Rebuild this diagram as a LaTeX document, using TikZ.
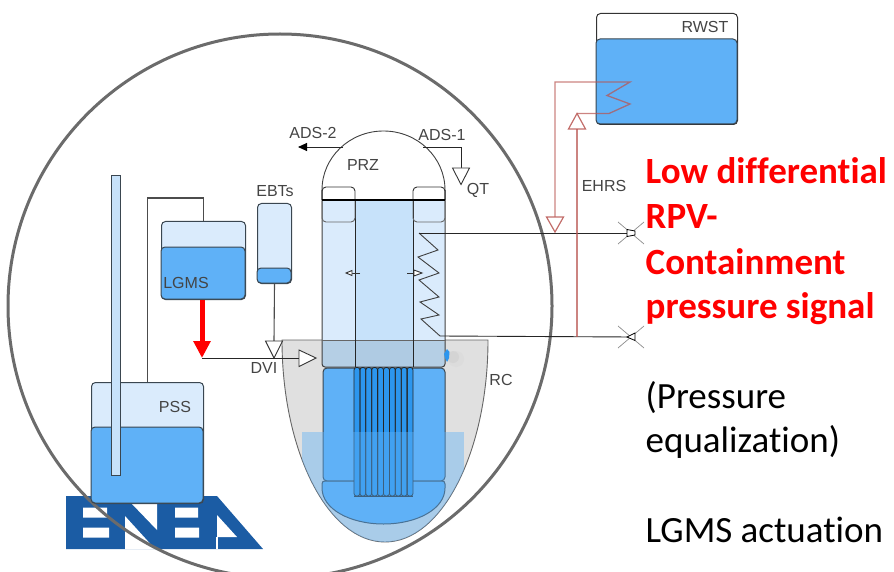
\documentclass[tikz,border=0pt]{standalone}
\usepackage{fontspec}
\setmainfont{Liberation Sans}
\newfontfamily\calib[Ligatures=NoCommon,RawFeature={-liga;-clig}]{Carlito}
\usetikzlibrary{arrows.meta}
\definecolor{lightb}{HTML}{DAEBFC}
\definecolor{riser}{HTML}{C7E2FA}
\definecolor{water}{HTML}{5FB1F7}
\definecolor{core}{HTML}{2C96EE}
\definecolor{rc}{HTML}{E0E0E0}
\definecolor{outl}{HTML}{3A4650}
\definecolor{ehrs}{HTML}{B85450}
\definecolor{enea}{HTML}{1B5CA4}
\definecolor{lab}{HTML}{444444}
\definecolor{vlow}{HTML}{B5CFE5}
\definecolor{rlow}{HTML}{AFCBE3}
\tikzset{
 x=1pt,y=-1pt,
 tank/.style={draw=outl,line width=1pt,rounded corners=4pt,inner sep=0pt,anchor=north west,fill=lightb},
 pipeline/.style={draw=black!70,line width=1.1pt},
 blackline/.style={draw=black!85,line width=.9pt},
 tri/.style={draw=black!80,fill=white,line width=.9pt},
 ehl/.style={draw=ehrs,draw opacity=.72,line width=1.3pt},
 etri/.style={draw=ehrs,draw opacity=.85,fill=white,line width=1.2pt},
 lbl/.style={text=lab,font=\fontsize{16}{16}\selectfont,inner sep=0pt},
 callout/.style={font=\calib\fontsize{37}{37}\selectfont,inner sep=0pt,anchor=base west},
 redcall/.style={text=red,font=\calib\bfseries\fontsize{37}{37}\selectfont},
 vx/.style={draw=black!45,line width=.7pt},
 vb/.style={draw=black,fill=white,line width=.8pt},
}
\newcommand{\RCpath}{(282,340) -- (488,340) .. controls (488,451.6) and (441.9,542) .. (385,542) .. controls (328.1,542) and (282,451.6) .. (282,340) -- cycle}
\begin{document}
\begin{tikzpicture}
\useasboundingbox (0,0) rectangle (894,572);
% ENEA logo
\fill[enea] (66,496) -- (217,496) -- (263,549) -- (66,549) -- cycle;
\fill[white] (83,507.5) rectangle (107,517.5) (83,527.5) rectangle (109,537.5);
\fill[white] (125,516) -- (125,549) -- (155,549) -- cycle;
\fill[white] (132,504) -- (157,504) -- (157,530) -- cycle;
\fill[white] (175,507.5) rectangle (198,517.5) (175,527.5) rectangle (199,537.5);
\fill[white] (217,515) -- (237,537) -- (217,537) -- cycle;
\fill[white] (216.3,537) rectangle (218,549);
% containment
\draw[draw=black!58,line width=3pt] (280,306) circle[radius=272pt];
% RC
\path[fill=rc,draw=black!60,line width=.9pt] \RCpath;
% upper vessel
\path[fill=white,draw=black!75,line width=.9pt] (322,200) -- (322,190) .. controls (322,157.4) and (349.5,131) .. (383.5,131)
  .. controls (417.5,131) and (445,157.4) .. (445,190) -- (445,200);
\fill[lightb] (322,200) -- (445,200) -- (445,340) -- (322,340) -- cycle;
\fill[riser] (355,200) rectangle (413,340);
\fill[vlow,rounded corners=3pt] (322,340) -- (445,340) -- (445,367) -- (322,367) -- cycle;
\fill[rlow] (355,340) rectangle (413,367);
\draw[draw=black!75,line width=1pt,rounded corners=3pt] (322,190) -- (322,367) -- (445,367) -- (445,190);
\draw[draw=black!60,line width=.9pt] (322,340) -- (445,340);
\draw[blackline] (355,200) -- (355,367) (413,200) -- (413,367);
% tabs
\draw[draw=black!80,line width=.9pt,rounded corners=4pt] (322,200) -- (322,187) -- (355,187) -- (355,200);
\draw[draw=black!80,line width=.9pt,rounded corners=4pt] (413,200) -- (413,187) -- (445,187) -- (445,200);
\draw[draw=black!60,line width=.9pt,rounded corners=4pt] (322,201) -- (322,222) -- (355,222) -- (355,201);
\draw[draw=black!60,line width=.9pt,rounded corners=4pt] (413,201) -- (413,222) -- (445,222) -- (445,201);
\draw[draw=black,line width=1.6pt] (322,200) -- (445,200);
% lower vessel
\path[fill=water,draw=outl,line width=1pt,rounded corners=4pt] (323,368) rectangle (445,481);
\path[fill=water,draw=outl,line width=1pt] (322,484) .. controls (322,482) and (323,481) .. (325,481) -- (442,481)
 .. controls (444,481) and (445,482) .. (445,484) -- (445,488) .. controls (445,509) and (417,524) .. (383.5,524)
 .. controls (350,524) and (322,509) .. (322,488) -- cycle;
% core
\fill[core] (354,368) rectangle (413,496);
\foreach \i in {0,...,9}{
  \draw[draw=black!85,line width=.8pt,rounded corners=2.5pt] ({354+\i*5.9},367.5) rectangle ({354+(\i+1)*5.9},496);
}
\draw[draw=black!85,line width=1pt] (354,496) -- (413,496);
% pool
\begin{scope}
 \clip \RCpath;
 \fill[water,fill opacity=.42] (302,432) rectangle (464,545);
\end{scope}
% blob
\fill[black!30,opacity=.2] (453,357) circle[radius=6pt];
\fill[black!20,opacity=.2] (456,359) circle[radius=8pt];
\fill[core] (447,349) -- (449.5,352) -- (449,358) -- (447,362) -- (445,358) -- (444,354) -- cycle;
% internal valves
\coordinate (vl) at (360,273); \coordinate (vr) at (407,273);
\draw[draw=black!80,line width=.7pt] (vl) -- (352,273);
\draw[tri] (352,270.5) -- (346,273) -- (352,275.5) -- cycle;
\draw[draw=black!80,line width=.7pt] (vr) -- (414,273);
\draw[tri] (414,270) -- (422,273) -- (414,276) -- cycle;
% heater coil
\node[inner sep=0pt,minimum size=0pt] (u) at (631,233) {};
\node[inner sep=0pt,minimum size=0pt] (d) at (631,337) {};
\coordinate (c1) at (419,233);
\coordinate (c2) at (440,336);
\draw[draw=black!75,line width=.9pt,line join=miter] (c1) -- (438,250) -- (418,257) -- (439,273) -- (419,280) -- (439,297) -- (420,302) -- (439,315) -- (421,319) -- (c2);
\draw[blackline] (c1) -- (u);
\draw[blackline] (c2) -- (d);
% valves
\draw[vx] (618,222) -- (644,244) (618,244) -- (644,222);
\draw[vb] (627,229.5) -- (627,236.5) -- (635,235) -- (635,231) -- cycle;
\draw[vx] (618,326) -- (644,348) (618,348) -- (644,326);
\draw[vb] (635,333) -- (635,340.5) -- (627,337) -- cycle;
% ADS
\coordinate (a2s) at (343,147); \coordinate (a2e) at (298,147);
\draw[blackline,-{Triangle[length=9pt,width=8pt,black]}] (a2s) -- (a2e);
\coordinate (a1s) at (423,147); \coordinate (qt) at (461,168);
\draw[blackline] (a1s) -| (qt);
\draw[tri] (452.5,168) -- (469.5,168) -- (461,184.5) -- cycle;
% tanks
\node[tank,minimum width=112pt,minimum height=121pt] (pss) at (91,382) {};
\path[fill=water,draw=outl,line width=1pt,rounded corners=4pt] (91,427) rectangle (203,503);
\node[tank,minimum width=84pt,minimum height=78pt] (lgms) at (161,221) {};
\path[fill=water,draw=outl,line width=1pt,rounded corners=4pt] (161,247) rectangle (245,299);
\node[tank,minimum width=34pt,minimum height=80pt] (ebt) at (257,203) {};
\path[fill=water,draw=outl,line width=1pt,rounded corners=4pt] (257,268) rectangle (291,283);
\node[tank,minimum width=141pt,minimum height=111pt,fill=white,draw=black!80] (rwst) at (596,13) {};
\path[fill=water,draw=outl,line width=1pt,rounded corners=4pt] (596,39) rectangle (737,124);
% tall pipe
\path[fill=riser,draw=outl,line width=1pt] (111,176) rectangle (120,475);
% PSS - LGMS
\coordinate (top) at (175,198);
\draw[pipeline] (pss.north) |- (top) -| (lgms.north);
% DVI
\coordinate (j) at (202,358); \coordinate (dv) at (299,358); \coordinate (ebv) at (274,341);
\draw[pipeline] (ebt.south) -- (ebv);
\draw[tri] (265.5,341) -- (282.5,341) -- (274,358) -- cycle;
\draw[blackline] (j) -- (dv);
\draw[tri] (299,350) -- (316,358) -- (299,366.5) -- cycle;
\draw[draw=red,line width=5pt,-{Triangle[length=17pt,width=16.5pt]}] (lgms.south -| j) -- (j);
% EHRS
\coordinate (e1) at (577,337); \coordinate (e2) at (577,129);
\coordinate (e3) at (555,217);
\draw[ehl] (e1) -- (e2);
\draw[ehl,line join=miter] (e3) -- (555,82) -- (630,82) -- (607,95.5) -- (630,104) -- (609,113.5) -- (577,113.5);
\draw[etri] (568.5,129) -- (577,113.5) -- (585.5,129) -- cycle;
\draw[etri] (546.5,217) -- (563.5,217) -- (555,232) -- cycle;
% labels
\node[lbl] (tl1) at (313,133) {ADS-2};
\node[lbl] (tl2) at (442,135) {ADS-1};
\node[lbl] (tl3) at (363,165) {PRZ};
\node[lbl] (tl4) at (478,190) {QT};
\node[lbl] (tl5) at (275,191) {EBTs};
\node[lbl] (tl6) at (186,283) {LGMS};
\node[lbl] (tl7) at (264,368) {DVI};
\node[lbl] (tl8) at (175,407) {PSS};
\node[lbl] (tl9) at (501,380) {RC};
\node[lbl] (tl10) at (604,186) {EHRS};
\node[lbl] (tl11) at (705,27) {RWST};
% callouts
\node[callout,redcall] (t1) at (645.5,184) {Low differential};
\node[callout,redcall] (t2) at (645.5,229) {RPV-};
\node[callout,redcall] (t3) at (645.5,274) {Containment};
\node[callout,redcall] (t4) at (645.5,318) {pressure signal};
\node[callout] (t5) at (645.5,408) {(Pressure};
\node[callout] (t6) at (645.5,452) {equalization)};
\node[callout] (t7) at (645.5,542) {LGMS actuation};
\end{tikzpicture}
\end{document}
